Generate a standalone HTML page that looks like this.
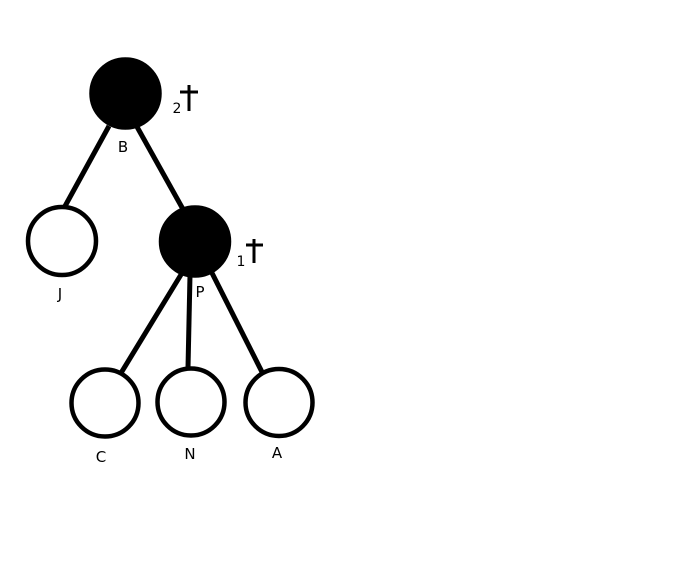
<!DOCTYPE html>
<html><head><style>body{margin:0;background:#fff}svg{display:block}</style></head><body>
<svg width="696" height="564" viewBox="0 0 696 564" xmlns="http://www.w3.org/2000/svg" font-family="DejaVu Sans, Liberation Sans, sans-serif">
<g stroke="#000" stroke-width="5" stroke-linecap="butt">
<line x1="109" y1="126" x2="64" y2="208"/>
<line x1="136" y1="125" x2="184" y2="211"/>
<line x1="182" y1="273" x2="121" y2="373"/>
<line x1="190" y1="275" x2="188" y2="368"/>
<line x1="212" y1="273" x2="262" y2="372"/>
</g>
<g stroke="#000" stroke-width="4.5">
<circle cx="125.5" cy="93.5" r="34" fill="#000"/>
<circle cx="195" cy="241.5" r="34" fill="#000"/>
<circle cx="62" cy="241" r="34" fill="#fff"/>
<circle cx="105" cy="403" r="33.5" fill="#fff"/>
<circle cx="191" cy="402" r="33.5" fill="#fff"/>
<circle cx="279" cy="402.5" r="33.5" fill="#fff"/>
</g>
<g font-size="15" fill="#000" text-anchor="middle">
<text x="123" y="152">B</text>
<text x="60" y="299">J</text>
<text x="200" y="297">P</text>
<text x="101" y="462">C</text>
<text x="190" y="459">N</text>
<text x="277" y="458">A</text>
<text x="177" y="113" font-size="14">2</text>
<text x="241" y="266" font-size="14">1</text>
</g>
<g stroke="#000" stroke-width="3">
<line x1="189" y1="85" x2="189" y2="111"/>
<line x1="180" y1="92" x2="198" y2="92"/>
<line x1="254" y1="239" x2="254" y2="263"/>
<line x1="246" y1="245" x2="263" y2="245"/>
</g>
</svg>
</body></html>
